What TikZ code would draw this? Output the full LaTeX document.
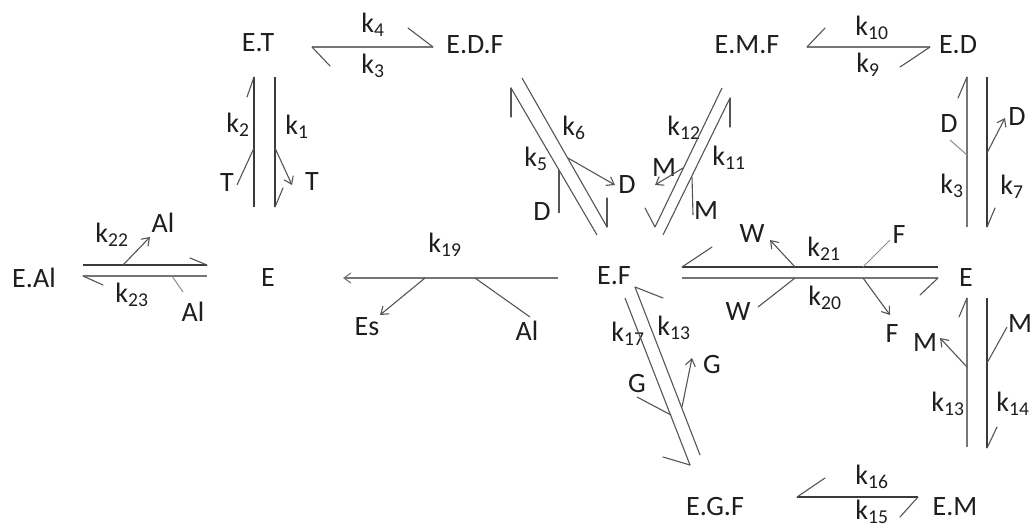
\documentclass[tikz,border=0pt]{standalone}
\usepackage{fontspec}
\setmainfont{Carlito}
\usetikzlibrary{arrows.meta}
\definecolor{txt}{HTML}{1E1E1E}
\definecolor{lnd}{HTML}{3A3A3A}
\definecolor{lnl}{HTML}{767676}
\definecolor{lnm}{HTML}{555555}
\definecolor{lnf}{HTML}{8C8C8C}
\newcommand\kk[1]{k\textsubscript{#1}}
\begin{document}
\begin{tikzpicture}[x=1pt,y=-1pt,
  sp/.style={font=\fontsize{28}{30}\selectfont, text=txt, inner sep=0pt},
  lab/.style={font=\fontsize{28}{30}\selectfont, text=txt, inner sep=0pt},
  thk/.style={draw=lnl, line width=2.4pt},
  thn/.style={draw=lnd, line width=1.4pt},
  dia/.style={draw=lnm, line width=1.1pt},
  side/.style={draw=lnm, line width=1.1pt},
  barb/.style={draw=lnm, line width=1.1pt, line cap=round},
  faint/.style={draw=lnf, line width=1pt},
  pv/.tip={Straight Barb[length=7pt,width=10pt,line width=1.1pt]},
]
\fill[white] (0,0) rectangle (1032,528);
\useasboundingbox (0,0) rectangle (1032,528);

% species
\node[sp] (ET)  at (258,43)  {E.T};
\node[sp] (EDF) at (475,45)  {E.D.F};
\node[sp] (EMF) at (747,45)  {E.M.F};
\node[sp] (ED)  at (958,45)  {E.D};
\node[sp] (EAl) at (34,278)  {E.Al};
\node[sp] (E1)  at (268,278) {E};
\node[sp] (EF)  at (614,276) {E.F};
\node[sp] (E2)  at (966,278) {E};
\node[sp] (EGF) at (715,507) {E.G.F};
\node[sp] (EM)  at (955,507) {E.M};

% rate constants
\node[lab] (k1)  at (297,127) {\kk{1}};
\node[lab] (k2)  at (238,125) {\kk{2}};
\node[lab] (k3)  at (373,66)  {\kk{3}};
\node[lab] (k4)  at (373,25)  {\kk{4}};
\node[lab] (k5)  at (536,159) {\kk{5}};
\node[lab] (k6)  at (574,128) {\kk{6}};
\node[lab] (k7)  at (1012,187) {\kk{7}};
\node[lab] (k8)  at (952,186) {\kk{3}};
\node[lab] (k9)  at (868,65)  {\kk{9}};
\node[lab] (k10) at (872,28)  {\kk{10}};
\node[lab] (k11) at (729,158) {\kk{11}};
\node[lab] (k12) at (684,128) {\kk{12}};
\node[lab] (k13) at (948,404) {\kk{13}};
\node[lab] (k14) at (1013,404) {\kk{14}};
\node[lab] (k15) at (872,512) {\kk{15}};
\node[lab] (k16) at (872,477) {\kk{16}};
\node[lab] (k17) at (628,334) {\kk{17}};
\node[lab] (k18) at (674,328) {\kk{13}};
\node[lab] (k19) at (445,245) {\kk{19}};
\node[lab] (k20) at (825,298) {\kk{20}};
\node[lab] (k21) at (824,249) {\kk{21}};
\node[lab] (k22) at (112,235) {\kk{22}};
\node[lab] (k23) at (132,295) {\kk{23}};

% ligands
\node[lab] (Ta)  at (227,183) {T};
\node[lab] (Tb)  at (312,182) {T};
\node[lab] (Da)  at (542,212) {D};
\node[lab] (Db)  at (627,185) {D};
\node[lab] (Ma)  at (664,168) {M};
\node[lab] (Mb)  at (706,211) {M};
\node[lab] (Dc)  at (949,124) {D};
\node[lab] (Dd)  at (1017,117) {D};
\node[lab] (Wa)  at (752,234) {W};
\node[lab] (Fa)  at (899,235) {F};
\node[lab] (Wb)  at (738,312) {W};
\node[lab] (Fb)  at (892,334) {F};
\node[lab] (Mc)  at (925,343) {M};
\node[lab] (Md)  at (1020,324) {M};
\node[lab] (Ga)  at (637,384) {G};
\node[lab] (Gb)  at (712,365) {G};
\node[lab] (Es)  at (367,327) {Es};
\node[lab] (Ala) at (527,331) {Al};
\node[lab] (Alb) at (163,223) {Al};
\node[lab] (Alc) at (193,312) {Al};

% E.T <-> E.D.F
\coordinate (p1a) at (312,47); \coordinate (p1b) at (433,47);
\draw[thk] (p1a) -- (p1b);
\draw[barb] (p1a) -- (330,66);
\draw[barb] (p1b) -- (408,28);

% E.T <-> E
\coordinate (p2a) at (254,207); \coordinate (p2b) at (254,77);
\coordinate (p2c) at (275,77);  \coordinate (p2d) at (275,207);
\draw[thn] (p2a) -- (p2b);
\draw[thn] (p2c) -- (p2d);
\draw[barb] (p2b) -- (247,97);
\draw[barb] (p2d) -- (283,188);
\coordinate (t1) at (237,185); \coordinate (t2) at (254,148);
\coordinate (t3) at (275,148); \coordinate (t4) at (292,185);
\draw[side] (t1) -- (t2);
\draw[side, -pv] (t3) -- (t4);

% E.D.F <-> E.F
\coordinate (p3a) at (597,235); \coordinate (p3b) at (511,88);
\coordinate (p3c) at (522,78);  \coordinate (p3d) at (607,227);
\draw[dia] (p3a) -- (p3b);
\draw[dia] (p3c) -- (p3d);
\draw[barb] (p3b) -- (511,117);
\draw[barb] (p3d) -- (607,198);
\coordinate (d1) at (559,213); \coordinate (d2) at (559,170);
\coordinate (d3) at (568,158); \coordinate (d4) at (615,185);
\draw[side] (d1) -- (d2);
\draw[side, -pv] (d3) -- (d4);

% E.M.F <-> E.F
\coordinate (p4a) at (722,88);  \coordinate (p4b) at (655,227);
\coordinate (p4c) at (663,235); \coordinate (p4d) at (730,98);
\draw[dia] (p4a) -- (p4b);
\draw[dia] (p4c) -- (p4d);
\draw[barb] (p4b) -- (645,208);
\draw[barb] (p4d) -- (730,127);
\coordinate (m1) at (683,168); \coordinate (m2) at (655,185);
\coordinate (m3) at (693,215); \coordinate (m4) at (692,177);
\draw[side, -pv] (m1) -- (m2);
\draw[side] (m3) -- (m4);

% E.M.F <-> E.D
\coordinate (p5a) at (807,47); \coordinate (p5b) at (930,47);
\draw[thk] (p5a) -- (p5b);
\draw[barb] (p5a) -- (825,28);
\draw[barb] (p5b) -- (900,67);

% E.D <-> E
\coordinate (p6a) at (967,227); \coordinate (p6b) at (967,77);
\coordinate (p6c) at (987,77);  \coordinate (p6d) at (987,227);
\draw[thk] (p6a) -- (p6b);
\draw[thn] (p6c) -- (p6d);
\draw[barb] (p6b) -- (958,98);
\draw[barb] (p6d) -- (995,208);
\coordinate (d5) at (950,140); \coordinate (d6) at (967,155);
\coordinate (d7) at (987,153); \coordinate (d8) at (1005,118);
\draw[faint] (d5) -- (d6);
\draw[side, -pv] (d7) -- (d8);

% E.F <-> E
\coordinate (p7a) at (938,267); \coordinate (p7b) at (682,267);
\coordinate (p7c) at (682,278); \coordinate (p7d) at (938,278);
\draw[thn] (p7a) -- (p7b);
\draw[thk] (p7c) -- (p7d);
\draw[barb] (p7b) -- (712,247);
\draw[barb] (p7d) -- (920,295);
\coordinate (w1) at (795,267); \coordinate (w2) at (770,240);
\coordinate (f1) at (890,240); \coordinate (f2) at (863,267);
\coordinate (w3) at (758,307); \coordinate (w4) at (795,278);
\coordinate (f3) at (863,278); \coordinate (f4) at (890,315);
\draw[side, -pv] (w1) -- (w2);
\draw[faint] (f1) -- (f2);
\draw[side] (w3) -- (w4);
\draw[side, -pv] (f3) -- (f4);

% E <-> E.M
\coordinate (p8a) at (967,447); \coordinate (p8b) at (967,298);
\coordinate (p8c) at (987,298); \coordinate (p8d) at (987,448);
\draw[thk] (p8a) -- (p8b);
\draw[thn] (p8c) -- (p8d);
\draw[barb] (p8b) -- (959,317);
\draw[barb] (p8d) -- (997,427);
\coordinate (m5) at (967,367);  \coordinate (m6) at (940,338);
\coordinate (m7) at (1007,327); \coordinate (m8) at (987,363);
\draw[side, -pv] (m5) -- (m6);
\draw[side] (m7) -- (m8);

% E.G.F <-> E.M
\coordinate (p9a) at (797,497); \coordinate (p9b) at (918,497);
\draw[thn] (p9a) -- (p9b);
\draw[barb] (p9a) -- (825,478);
\draw[barb] (p9b) -- (900,517);

% E.F <-> E.G.F
\coordinate (p10a) at (625,298); \coordinate (p10b) at (690,465);
\coordinate (p10c) at (700,455); \coordinate (p10d) at (635,287);
\draw[dia] (p10a) -- (p10b);
\draw[dia] (p10c) -- (p10d);
\draw[barb] (p10b) -- (663,457);
\draw[barb] (p10d) -- (663,298);
\coordinate (g1) at (637,397); \coordinate (g2) at (671,415);
\coordinate (g3) at (682,407); \coordinate (g4) at (692,358);
\draw[side] (g1) -- (g2);
\draw[side, -pv] (g3) -- (g4);

% E.F -> E
\coordinate (p11a) at (558,278); \coordinate (p11b) at (343,278);
\draw[thk, -pv] (p11a) -- (p11b);
\coordinate (e1) at (425,278); \coordinate (e2) at (380,315);
\coordinate (a1) at (530,317); \coordinate (a2) at (475,278);
\draw[side, -pv] (e1) -- (e2);
\draw[side] (a1) -- (a2);

% E.Al <-> E
\coordinate (p12a) at (83,265);  \coordinate (p12b) at (207,265);
\coordinate (p12c) at (207,276); \coordinate (p12d) at (83,276);
\draw[thn] (p12a) -- (p12b);
\draw[thk] (p12c) -- (p12d);
\draw[barb] (p12b) -- (190,258);
\draw[barb] (p12d) -- (103,285);
\coordinate (a3) at (123,265); \coordinate (a4) at (150,237);
\coordinate (a5) at (183,292); \coordinate (a6) at (172,276);
\draw[side, -pv] (a3) -- (a4);
\draw[faint] (a5) -- (a6);
\end{tikzpicture}
\end{document}
